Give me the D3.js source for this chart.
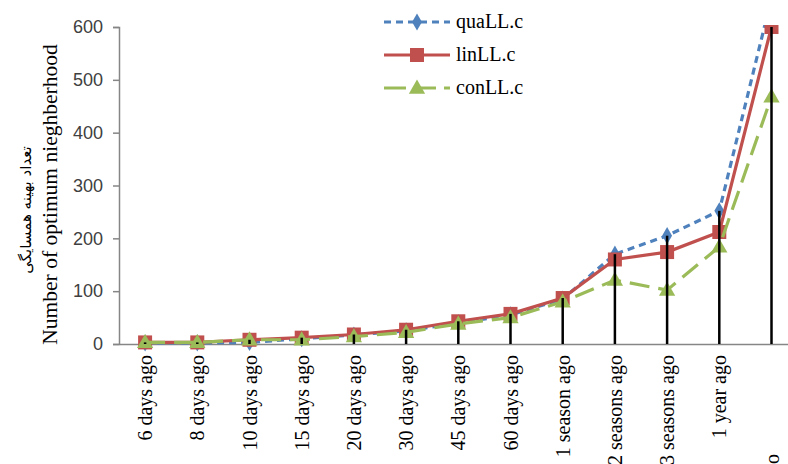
<!DOCTYPE html>
<html>
<head>
<meta charset="utf-8">
<script src="https://cdn.jsdelivr.net/npm/d3@7/dist/d3.min.js"></script>
<style>
  html, body { margin: 0; padding: 0; background: #fff; }
  svg { display: block; }
</style>
</head>
<body>
<svg id="chart" width="788" height="464"></svg>
<script>
const categories = ["6 days ago","8 days ago","10 days ago","15 days ago","20 days ago","30 days ago","45 days ago","60 days ago","1 season ago","2 seasons ago","3 seasons ago","1 year ago","2 years ago"];
const quaValues = [2, 2, 3, 10, 17, 25, 40, 55, 85, 170, 205, 252, 655];
const linValues = [3, 3, 8, 12, 18, 27, 43, 57, 87, 160, 174, 212, 600];
const conValues = [3, 3, 8, 8, 14, 22, 38, 50, 80, 121, 102, 184, 468];
const seriesNames = ["quaLL.c", "linLL.c", "conLL.c"];
const yTicks = [0, 100, 200, 300, 400, 500, 600];

const svg = d3.select("#chart");
const plotLeft = 119, plotTop = 27, plotBottom = 344;
const step = 52.2;
const x = d3.scaleBand().domain(categories).range([plotLeft, plotLeft + step * categories.length]).padding(0);
const y = d3.scaleLinear().domain([0, 600]).range([plotBottom, plotTop]);

const series = [
  { name: seriesNames[0], values: quaValues, color: "#4F81BD", dash: "7,5", marker: "diamond" },
  { name: seriesNames[1], values: linValues, color: "#C0504D", dash: null, marker: "square" },
  { name: seriesNames[2], values: conValues, color: "#9BBB59", dash: "20,9", marker: "triangle" }
];

svg.append("defs").append("clipPath").attr("id", "plotClip")
  .append("rect").attr("x", plotLeft).attr("y", plotTop - 2).attr("width", 788 - plotLeft).attr("height", plotBottom - plotTop + 12);

const serifFont = "'Liberation Serif', 'Times New Roman', serif";

// axes
const yAxis = d3.axisLeft(y).tickValues(yTicks).tickSize(6).tickPadding(10);
const gy = svg.append("g").attr("transform", `translate(${plotLeft},0)`).call(yAxis);
gy.select(".domain").attr("stroke", "#868686").attr("stroke-width", 1.5);
gy.selectAll(".tick line").attr("stroke", "#868686").attr("stroke-width", 1.5);
gy.selectAll(".tick text").style("font-family", "'Liberation Sans', Arial, sans-serif").attr("font-size", 18).attr("fill", "#404040");

const xAxis = d3.axisBottom(x).tickSize(0).tickPadding(0);
const gx = svg.append("g").attr("transform", `translate(0,${plotBottom})`).call(xAxis);
gx.select(".domain").attr("stroke", "#868686").attr("stroke-width", 1.5);
gx.selectAll(".tick text")
  .style("font-family", serifFont)
  .style("font-size", "20px")
  .attr("fill", "#000")
  .attr("text-anchor", "end")
  .attr("transform", (d, i) => `translate(7, ${i === categories.length - 1 ? 110 : 11}) rotate(-90)`)
  .attr("x", 0).attr("y", 0).attr("dy", "0");

const plot = svg.append("g").attr("clip-path", "url(#plotClip)");

const line = d3.line().x((d, i) => x(categories[i]) + x.bandwidth() / 2).y(d => y(d));

function drawMarker(g, s, cx, cy) {
  if (s.marker === "diamond") {
    g.append("path").attr("d", d3.symbol(d3.symbolDiamond, 85)()).attr("transform", `translate(${cx},${cy})`).attr("fill", s.color);
  } else if (s.marker === "square") {
    g.append("rect").attr("x", cx - 7).attr("y", cy - 7).attr("width", 14).attr("height", 14).attr("fill", s.color);
  } else {
    g.append("path").attr("d", d3.symbol(d3.symbolTriangle, 115)()).attr("transform", `translate(${cx},${cy + 1})`).attr("fill", s.color);
  }
}

series.forEach(s => {
  const g = plot.append("g");
  g.append("path").datum(s.values).attr("d", line).attr("fill", "none")
    .attr("stroke", s.color).attr("stroke-width", 3.2)
    .attr("stroke-dasharray", s.dash);
  s.values.forEach((v, i) => {
    drawMarker(g, s, x(categories[i]) + x.bandwidth() / 2, y(v));
  });
});

// drop lines
categories.forEach((c, i) => {
  const mx = Math.max(quaValues[i], linValues[i], conValues[i]);
  plot.append("line")
    .attr("x1", x(c) + x.bandwidth() / 2).attr("x2", x(c) + x.bandwidth() / 2)
    .attr("y1", y(Math.min(mx, 600))).attr("y2", y(0))
    .attr("stroke", "#000").attr("stroke-width", 2.5);
});

// axis titles
svg.append("text")
  .attr("transform", `translate(57, ${(plotTop + plotBottom) / 2 + 9}) rotate(-90)`)
  .attr("text-anchor", "middle")
  .style("font-family", serifFont)
  .style("font-size", "21.5px")
  .attr("fill", "#000")
  .text("Number of optimum nieghberhood");
svg.append("text")
  .attr("transform", `translate(31, 210) rotate(-90)`)
  .attr("text-anchor", "middle")
  .style("font-family", "'DejaVu Sans', 'Noto Sans', sans-serif")
  .style("font-size", "15px")
  .attr("fill", "#000")
  .text("تعداد بهینه همسایگی");

// legend
const legend = svg.append("g");
series.forEach((s, i) => {
  const ly = 22 + i * 33;
  const g = legend.append("g");
  g.append("line").attr("x1", 384).attr("x2", 450).attr("y1", ly).attr("y2", ly)
    .attr("stroke", s.color).attr("stroke-width", 3.2)
    .attr("stroke-dasharray", s.marker === "triangle" ? "22,8" : s.dash);
  drawMarker(g, s, 417, ly);
  g.append("text").attr("x", 456).attr("y", ly + 6)
    .style("font-family", serifFont)
    .style("font-size", "20px").attr("fill", "#000").text(s.name);
});
</script>
</body>
</html>
